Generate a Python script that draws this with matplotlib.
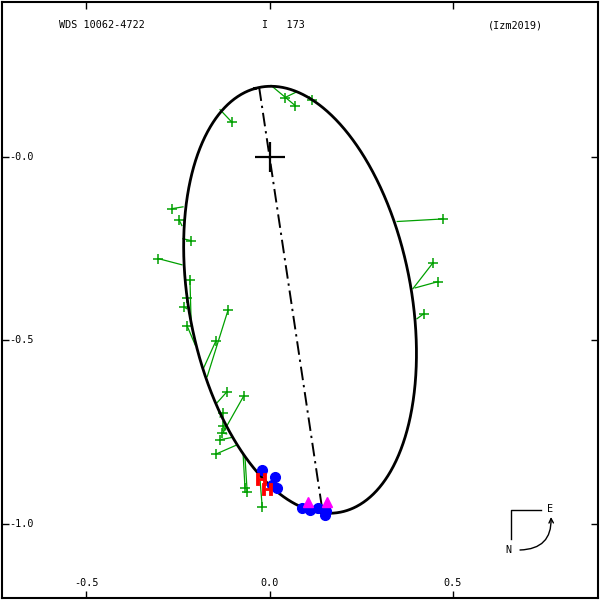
"""Orbit plot for WDS 10062-4722 (I 173), orbit Izm2019."""

import matplotlib.pyplot as plt
import numpy as np

# Orbit: eccentricity and Thiele-Innes-like constants in plot coordinates (arcsec)
ecc = 0.676
ti_A, ti_B = -0.1230, 0.5760
ti_F, ti_G = 0.3970, 0.1135
node_pa = 8.5  # position angle of line of nodes, deg

# Micrometric measures (observed) and their computed positions on the orbit
micro_x = [-0.102, 0.042, 0.070, 0.116, -0.266, -0.247, -0.214, -0.304, -0.217, -0.225,
           -0.234, -0.225, -0.113, -0.146, -0.116, -0.070, -0.127, -0.127, -0.130, -0.135,
           -0.146, -0.067, -0.061, -0.020, 0.473, 0.446, 0.459, 0.421]
micro_y = [0.094, 0.162, 0.140, 0.156, -0.141, -0.171, -0.228, -0.277, -0.335, -0.384,
           -0.409, -0.460, -0.417, -0.501, -0.640, -0.651, -0.698, -0.733, -0.752, -0.771,
           -0.810, -0.902, -0.913, -0.954, -0.169, -0.288, -0.340, -0.427]
calc_x = [-0.135, 0.075, 0.004, 0.108, -0.236, -0.239, -0.236, -0.239, -0.214, -0.217,
          -0.225, -0.203, -0.170, -0.181, -0.143, -0.127, -0.135, -0.120, -0.117, -0.104,
          -0.089, -0.072, -0.067, -0.026, 0.348, 0.391, 0.397, 0.402]
calc_y = [0.129, 0.178, 0.195, 0.164, -0.136, -0.187, -0.223, -0.294, -0.444, -0.436,
          -0.414, -0.512, -0.599, -0.578, -0.670, -0.752, -0.709, -0.744, -0.755, -0.765,
          -0.785, -0.812, -0.818, -0.880, -0.176, -0.359, -0.357, -0.441]

# Interferometric measures
speckle_x = [-0.020, 0.015, 0.020, 0.007, 0.089, 0.110, 0.132, 0.154, 0.151]
speckle_y = [-0.853, -0.872, -0.902, -0.894, -0.956, -0.962, -0.956, -0.964, -0.976]

# Hipparcos measures
hip_x = [-0.023, -0.007]
hip_y = [-0.878, -0.905]

# Other measures
other_x = [0.105, 0.157]
other_y = [-0.940, -0.940]

xticks = [-0.5, 0.0, 0.5]
xticklabels = ["-0.5", "0.0", "0.5"]
yticks = [0.0, -0.5, -1.0]
yticklabels = ["-0.0", "-0.5", "-1.0"]

mono = "DejaVu Sans Mono"
fsize = 7.3

fig = plt.figure(figsize=(6, 6), dpi=100)
ax = fig.add_axes([0.003, 0.003, 0.994, 0.994])
ax.set_xlim(-0.730, 0.896)
ax.set_ylim(-1.203, 0.423)

# Apparent orbit
E = np.linspace(0, 2 * np.pi, 1441)
X = np.cos(E) - ecc
Y = np.sqrt(1 - ecc ** 2) * np.sin(E)
ox = ti_A * X + ti_F * Y
oy = ti_B * X + ti_G * Y
ax.plot(ox, oy, color="black", lw=2.0, zorder=3)

# Line of nodes: intersections of the orbit with the node direction
nx, ny = np.sin(np.radians(node_pa)), -np.cos(np.radians(node_pa))
cross = ox * ny - oy * nx
idx = np.where(np.sign(cross[:-1]) != np.sign(cross[1:]))[0]
pts = []
for i in idx[:2]:
    f = cross[i] / (cross[i] - cross[i + 1])
    pts.append((ox[i] + f * (ox[i + 1] - ox[i]), oy[i] + f * (oy[i + 1] - oy[i])))
pts = np.array(pts)
ax.plot(pts[:, 0], pts[:, 1], color="black", lw=1.4, ls=(0, (7, 2.5, 1.2, 2.5)), zorder=3)

# Primary
ax.plot(0, 0, marker="+", ms=21, mew=1.6, color="black", zorder=4)

# Measures
green = "#00a000"
for x0, y0, x1, y1 in zip(micro_x, micro_y, calc_x, calc_y):
    ax.plot([x0, x1], [y0, y1], color=green, lw=0.9, zorder=2)
ax.plot(micro_x, micro_y, ls="none", marker="+", ms=7, mew=1.1, color=green, zorder=2)
ax.plot(speckle_x, speckle_y, ls="none", marker="o", ms=7, color="#0000ff", mec="#0000ff", zorder=5)
ax.plot(hip_x, hip_y, ls="none", marker=r"$\mathbf{H}$", ms=8, color="red", mec="red",
        mew=0.6, zorder=6)
ax.plot(other_x, other_y, ls="none", marker="^", ms=7, color="#ff00ff", mec="#ff00ff", zorder=6)

# Frame and ticks
ax.set_xticks(xticks)
ax.set_yticks(yticks)
ax.tick_params(direction="in", length=5, width=1, top=True, right=True,
               labelbottom=False, labelleft=False)
for sp in ax.spines.values():
    sp.set_linewidth(1.5)
for xt, lab in zip(xticks, xticklabels):
    ax.text(xt, 15 / 596, lab, transform=ax.get_xaxis_transform(), ha="center", va="center",
            family=mono, fontsize=fsize)
for yt, lab in zip(yticks, yticklabels):
    ax.text(7 / 596, yt, lab, transform=ax.get_yaxis_transform(), ha="left", va="center",
            family=mono, fontsize=fsize)

# Header
fig.text(59 / 600, 1 - 25 / 600, "WDS 10062-4722", family=mono, fontsize=fsize, va="center")
fig.text(262 / 600, 1 - 25 / 600, "I   173", family=mono, fontsize=fsize, va="center")
fig.text(488 / 600, 1 - 25 / 600, "(Izm2019)", family=mono, fontsize=fsize, va="center")

# Compass
def fp(px, py):
    return px / 600, 1 - py / 600

tf = fig.transFigure
ax.plot(*zip(fp(541, 509.5), fp(511, 509.5), fp(511, 539)), transform=tf, color="black", lw=1)
fig.text(*fp(550, 509), "E", family=mono, fontsize=fsize, ha="center", va="center")
fig.text(*fp(508, 550), "N", family=mono, fontsize=fsize, ha="center", va="center")
ax.annotate("", xy=fp(551, 517), xytext=fp(520, 550), xycoords="figure fraction",
            textcoords="figure fraction",
            arrowprops=dict(arrowstyle="->", connectionstyle="arc3,rad=0.5", lw=1,
                            color="black", shrinkA=0, shrinkB=0, mutation_scale=8))

fig.savefig("out.png", dpi=100)
